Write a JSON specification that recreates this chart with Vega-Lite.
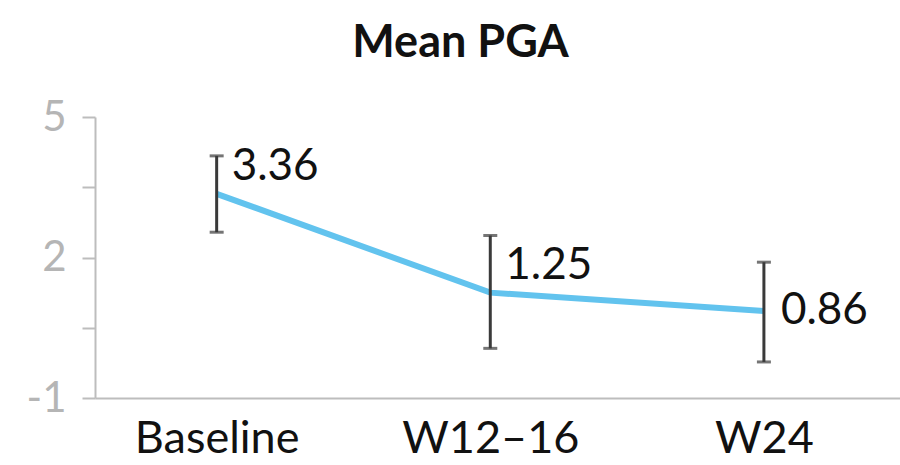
{
  "$schema": "https://vega.github.io/schema/vega-lite/v6.json",
  "autosize": "none",
  "width": 805,
  "height": 281,
  "padding": {"left": 95, "top": 117, "right": 0, "bottom": 67},
  "background": "white",
  "config": {"view": {"stroke": null}, "font": "Lato"},
  "title": {"text": "Mean PGA", "fontSize": 45, "fontWeight": "bold", "font": "Lato", "color": "#111111", "anchor": "middle", "dx": -37, "offset": 30},
  "data": {"values": [
    {"time": "Baseline", "mean": 3.36, "lo": 2.54, "hi": 4.17, "label": "3.36", "pos": "above"},
    {"time": "W12–16", "mean": 1.25, "lo": 0.06, "hi": 2.47, "label": "1.25", "pos": "above"},
    {"time": "W24", "mean": 0.86, "lo": -0.23, "hi": 1.9, "label": "0.86", "pos": "side"}
  ]},
  "encoding": {
    "x": {"field": "time", "type": "ordinal", "sort": null,
      "scale": {"type": "point", "padding": 0.471, "align": 0.472},
      "axis": {"title": null, "ticks": false, "domainColor": "#bdbdbd", "domainWidth": 2, "labelAngle": 0, "labelFontSize": 45, "labelColor": "#111111", "labelPadding": 18, "labelFont": "Lato", "grid": false}}
  },
  "layer": [
    {"mark": {"type": "line", "color": "#62C3EE", "strokeWidth": 6},
     "encoding": {"y": {"field": "mean", "type": "quantitative",
       "scale": {"domain": [-1, 5], "nice": false, "zero": false},
       "axis": {"title": null, "values": [-1, 0.5, 2, 3.5, 5], "grid": false, "domainColor": "#bdbdbd", "domainWidth": 2, "tickColor": "#bdbdbd", "tickWidth": 2, "tickSize": 13, "labelFontSize": 42, "labelColor": "#b5b5b5", "labelPadding": 16, "labelFont": "Lato",
         "labelExpr": "datum.value == 5 ? '5' : datum.value == 2 ? '2' : datum.value == -1 ? '-1' : ''"}}}},
    {"mark": {"type": "rule", "color": "#3a3a3a", "strokeWidth": 3},
     "encoding": {"y": {"field": "lo", "type": "quantitative"}, "y2": {"field": "hi"}}},
    {"mark": {"type": "tick", "orient": "horizontal", "color": "#3a3a3a", "size": 14, "thickness": 3},
     "encoding": {"y": {"field": "lo", "type": "quantitative"}}},
    {"mark": {"type": "tick", "orient": "horizontal", "color": "#3a3a3a", "size": 14, "thickness": 3},
     "encoding": {"y": {"field": "hi", "type": "quantitative"}}},
    {"transform": [{"filter": "datum.pos == 'above'"}],
     "mark": {"type": "text", "align": "left", "baseline": "middle", "dx": 15, "dy": -27, "fontSize": 44, "font": "Lato", "color": "#111111"},
     "encoding": {"y": {"field": "mean", "type": "quantitative"}, "text": {"field": "label"}}},
    {"transform": [{"filter": "datum.pos == 'side'"}],
     "mark": {"type": "text", "align": "left", "baseline": "middle", "dx": 17, "dy": 0, "fontSize": 44, "font": "Lato", "color": "#111111"},
     "encoding": {"y": {"field": "mean", "type": "quantitative"}, "text": {"field": "label"}}}
  ],
  "resolve": {"scale": {"y": "shared"}}
}
